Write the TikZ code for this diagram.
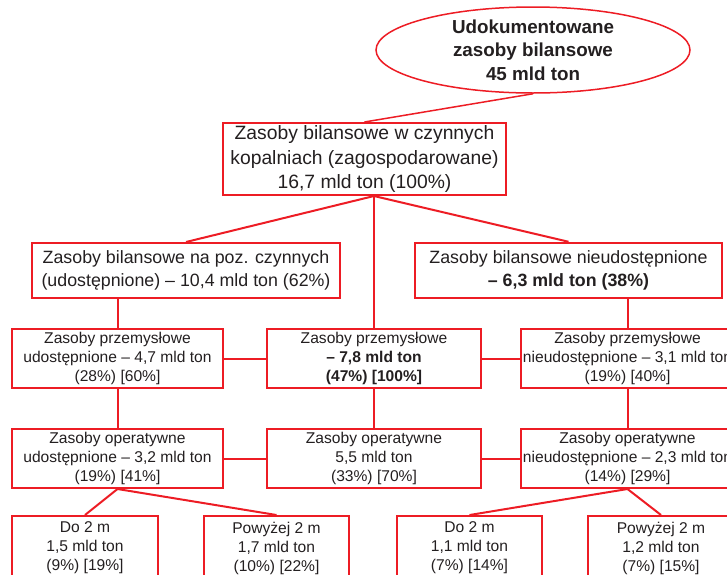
\documentclass[tikz,border=0pt]{standalone}
\usepackage{fontspec}
\setmainfont{Liberation Sans}
\usetikzlibrary{shapes.geometric}
\definecolor{czerwien}{RGB}{237,28,36}
\definecolor{grafit}{RGB}{35,31,32}

\begin{document}
\begin{tikzpicture}[x=1pt, y=-1pt,
  every node/.style={text=grafit, align=center, inner sep=0pt},
  ramka/.style={draw=czerwien, line width=2pt, rectangle},
  duzy/.style={font=\fontsize{19.3}{24.5}\selectfont},
  sredni/.style={font=\fontsize{17.8}{23}\selectfont},
  maly/.style={font=\fontsize{15.6}{19}\selectfont},
  polacz/.style={draw=czerwien, line width=2pt}]
\useasboundingbox (0,0) rectangle (727,574);

\node[ellipse, draw=czerwien, line width=1.5pt, minimum width=314pt, minimum height=84pt,
  font=\bfseries\fontsize{18.8}{23.5}\selectfont] (udok) at (533,50)
  {Udokumentowane\\zasoby bilansowe\\45 mld ton};
\node[ramka, duzy, minimum width=283pt, minimum height=72pt] (zag) at (364.5,159)
  {Zasoby bilansowe w czynnych\\kopalniach (zagospodarowane)\\16,7 mld ton (100\%)};

\node[ramka, sredni, minimum width=308pt, minimum height=55pt] (udost) at (186,270.5)
  {Zasoby bilansowe na poz. czynnych\\(udostępnione) -- 10,4 mld ton (62\%)};
\node[ramka, sredni, line width=2.5pt, minimum width=307pt, minimum height=55pt] (nieudost) at (568.5,270.5)
  {Zasoby bilansowe nieudostępnione\\\textbf{-- 6,3 mld ton (38\%)}};

\node[ramka, maly, minimum width=211pt, minimum height=59pt] (przemU) at (117.5,358.5)
  {Zasoby przemysłowe\\udostępnione -- 4,7 mld ton\\(28\%) [60\%]};
\node[ramka, maly, minimum width=214pt, minimum height=59pt] (przem) at (374,358.5)
  {Zasoby przemysłowe\\\textbf{-- 7,8 mld ton}\\\textbf{(47\%) [100\%]}};
\node[ramka, maly, minimum width=213pt, minimum height=59pt] (przemN) at (627.5,358.5)
  {Zasoby przemysłowe\\nieudostępnione -- 3,1 mld ton\\(19\%) [40\%]};

\node[ramka, maly, minimum width=211pt, minimum height=59pt] (operU) at (117.5,458.5)
  {Zasoby operatywne\\udostępnione -- 3,2 mld ton\\(19\%) [41\%]};
\node[ramka, maly, minimum width=214pt, minimum height=59pt] (oper) at (374,458.5)
  {Zasoby operatywne\\5,5 mld ton\\(33\%) [70\%]};
\node[ramka, maly, minimum width=213pt, minimum height=59pt] (operN) at (627.5,458.5)
  {Zasoby operatywne\\nieudostępnione -- 2,3 mld ton\\(14\%) [29\%]};

\node[ramka, maly, minimum width=146pt, minimum height=64pt] (doU) at (85,548)
  {Do 2 m\\1,5 mld ton\\(9\%) [19\%]};
\node[ramka, maly, minimum width=145pt, minimum height=64pt] (powU) at (276.5,548)
  {Powyżej 2 m\\1,7 mld ton\\(10\%) [22\%]};
\node[ramka, maly, minimum width=145pt, minimum height=64pt] (doN) at (469.5,548)
  {Do 2 m\\1,1 mld ton\\(7\%) [14\%]};
\node[ramka, maly, minimum width=146pt, minimum height=64pt] (powN) at (661,548)
  {Powyżej 2 m\\1,2 mld ton\\(7\%) [15\%]};

\draw[polacz, line width=1.5pt] (udok.south) -- (zag.north);
\draw[polacz] (przem.north |- zag.south) -- (udost.north);
\draw[polacz] (przem.north |- zag.south) -- (nieudost.north);
\draw[polacz] (przem.north |- zag.south) -- (przem.north);
\draw[polacz] (przemU.north |- udost.south) -- (przemU.north);
\draw[polacz] (przemN.north |- nieudost.south) -- (przemN.north);
\draw[polacz] (przemU.east) -- (przem.west);
\draw[polacz] (przem.east) -- (przemN.west);
\draw[polacz] (przemU.south) -- (operU.north);
\draw[polacz] (przem.south) -- (oper.north);
\draw[polacz] (przemN.south) -- (operN.north);
\draw[polacz] (operU.east) -- (oper.west);
\draw[polacz] (oper.east) -- (operN.west);
\draw[polacz] (operU.south) -- (doU.north);
\draw[polacz] (operU.south) -- (powU.north);
\draw[polacz] (operN.south) -- (doN.north);
\draw[polacz] (operN.south) -- (powN.north);
\end{tikzpicture}
\end{document}
